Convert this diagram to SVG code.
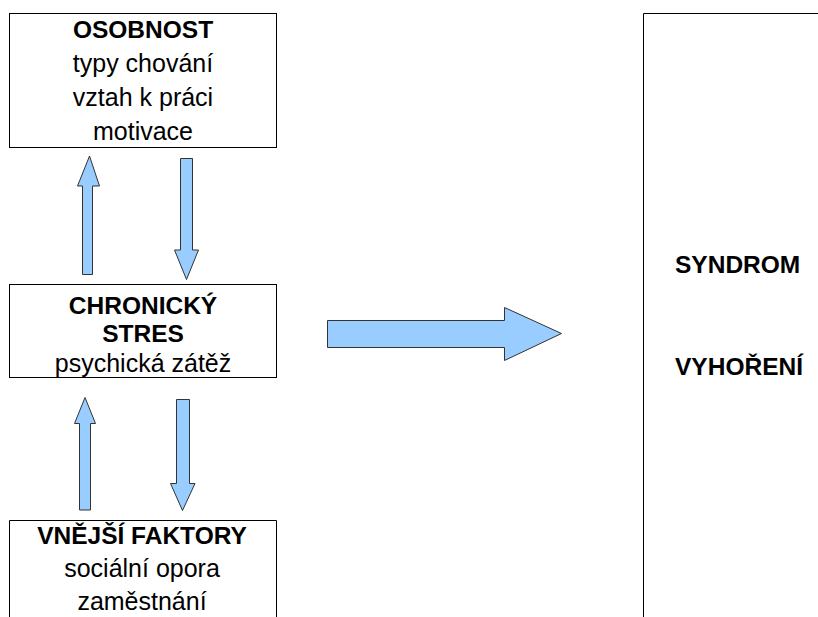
<svg xmlns="http://www.w3.org/2000/svg" width="818" height="617" viewBox="0 0 818 617">
<style>
.box{fill:#ffffff;stroke:#000000;stroke-width:1}
.t{font-family:"Liberation Sans",Arial,sans-serif;font-size:25px;fill:#000000;text-anchor:middle}
.b{font-weight:bold;font-size:24.5px}
.arr{fill:#99ccff;stroke:#333333;stroke-width:1;stroke-linejoin:miter}
</style>
<rect x="0" y="0" width="818" height="617" fill="#ffffff"/>
<g id="osobnost">
<rect class="box" x="9.5" y="13.5" width="267" height="134"/>
<text class="t b" x="143" y="38">OSOBNOST</text>
<text class="t" x="143" y="72">typy chování</text>
<text class="t" x="143" y="106">vztah k práci</text>
<text class="t" x="143" y="140">motivace</text>
</g>
<g id="chronicky-stres">
<rect class="box" x="9.5" y="284.5" width="267" height="93"/>
<text class="t b" x="143" y="314">CHRONICKÝ</text>
<text class="t b" x="143" y="342">STRES</text>
<text class="t" x="143" y="372">psychická zátěž</text>
</g>
<g id="vnejsi-faktory">
<path class="box" d="M9.5 618 V520.5 H276.5 V618"/>
<text class="t b" x="142" y="544">VNĚJŠÍ FAKTORY</text>
<text class="t" x="142" y="577">sociální opora</text>
<text class="t" x="142" y="610">zaměstnání</text>
</g>
<g id="syndrom-vyhoreni">
<path class="box" d="M643.5 618 V13.5 H819"/>
<text class="t b" x="675" y="273" style="text-anchor:start">SYNDROM</text>
<text class="t b" x="675" y="375" style="text-anchor:start">VYHOŘENÍ</text>
</g>
<g id="connectors">
<polygon class="arr" points="82.5,274.5 82.5,186 77.5,186 89.5,156 99.5,186 92.5,186 92.5,274.5"/>
<polygon class="arr" points="180.5,158.5 192.5,158.5 192.5,250 198.5,250 186.5,279.5 174.5,250 180.5,250"/>
<polygon class="arr" points="79.5,510 79.5,423.5 74.5,423.5 85,397.5 95.5,423.5 90.5,423.5 90.5,510"/>
<polygon class="arr" points="176.5,399.5 189.5,399.5 189.5,483.5 195,483.5 182.5,510.5 170.5,483.5 176.5,483.5"/>
<polygon class="arr" points="327.5,320.5 504.5,320.5 504.5,307.5 561.5,333.5 504.5,360.5 504.5,347.5 327.5,347.5"/>
</g>
</svg>
